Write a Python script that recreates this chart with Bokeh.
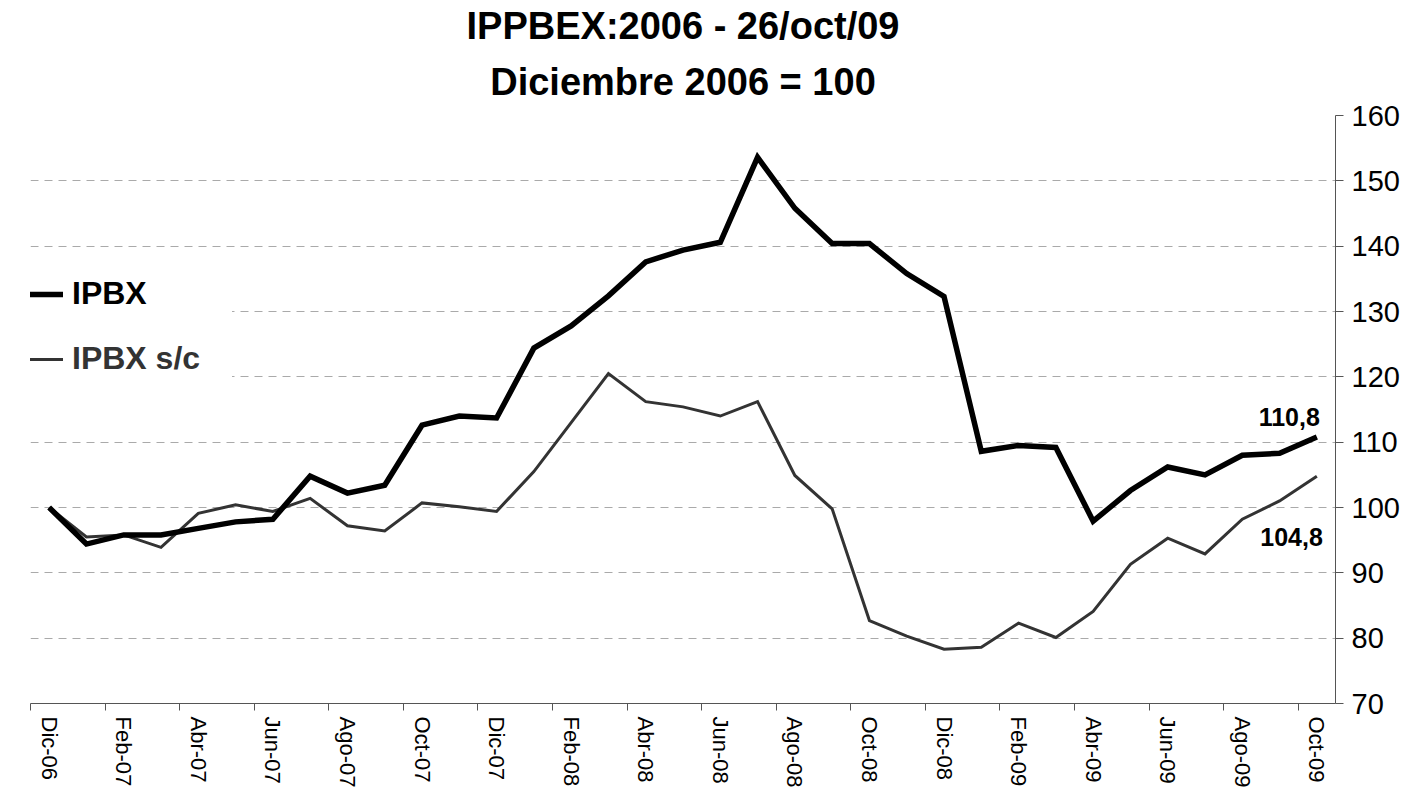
from bokeh.plotting import figure
from bokeh.models import (Range1d, FixedTicker, ColumnDataSource, Legend, LegendItem, Title)
from bokeh.core.properties import value
from bokeh.embed import file_html
from bokeh.resources import INLINE

# ---------------- data ----------------
months = ["Dic-06", "Ene-07", "Feb-07", "Mar-07", "Abr-07", "May-07", "Jun-07",
          "Jul-07", "Ago-07", "Sep-07", "Oct-07", "Nov-07", "Dic-07", "Ene-08",
          "Feb-08", "Mar-08", "Abr-08", "May-08", "Jun-08", "Jul-08", "Ago-08",
          "Sep-08", "Oct-08", "Nov-08", "Dic-08", "Ene-09", "Feb-09", "Mar-09",
          "Abr-09", "May-09", "Jun-09", "Jul-09", "Ago-09", "Sep-09", "Oct-09"]
ipbx = [100.0, 94.4, 95.8, 95.8, 96.8, 97.8, 98.2, 104.8, 102.2, 103.4, 112.6,
        114.0, 113.7, 124.4, 127.8, 132.4, 137.6, 139.4, 140.6, 153.6, 145.8,
        140.4, 140.4, 135.8, 132.3, 108.6, 109.5, 109.2, 97.9, 102.6, 106.2,
        105.0, 108.0, 108.3, 110.8]
ipbx_sc = [100.0, 95.5, 95.8, 93.9, 99.1, 100.4, 99.4, 101.4, 97.2, 96.4, 100.7,
           100.1, 99.4, 105.5, 113.0, 120.5, 116.2, 115.4, 114.0, 116.2, 104.9,
           99.8, 82.7, 80.3, 78.3, 78.6, 82.3, 80.1, 84.1, 91.3, 95.3,
           92.9, 98.2, 101.0, 104.8]
series_names = ["IPBX", "IPBX s/c"]
y_ticks = [70, 80, 90, 100, 110, 120, 130, 140, 150, 160]
title_lines = ["IPPBEX:2006 - 26/oct/09", "Diciembre 2006 = 100"]

FONT = "Liberation Sans"
idx = list(range(len(months)))

p = figure(frame_width=1305, frame_height=588, output_backend="svg",
           toolbar_location=None, x_range=Range1d(-0.5, len(months) - 0.5),
           y_range=Range1d(y_ticks[0], y_ticks[-1]), y_axis_location="right",
           min_border_left=30, min_border_top=115, min_border_right=0,
           min_border_bottom=0, background_fill_color="white",
           border_fill_color="white", title=None)
p.outline_line_color = None

# title (two centred lines; first added sits nearest the frame)
for line, so in ((title_lines[1], 25), (title_lines[0], 0)):
    p.add_layout(Title(text=line, align="center", text_font=FONT,
                       text_font_size="38px", text_font_style="bold",
                       text_color="black", standoff=so), "above")

# x axis
xa = p.xaxis[0]
xa.ticker = FixedTicker(ticks=idx[::2], minor_ticks=[i - 0.5 for i in idx[::2]])
xa.major_label_overrides = {i: months[i] for i in idx[::2]}
xa.major_label_orientation = "vertical"
xa.major_label_text_font = FONT
xa.major_label_text_font_size = "22px"
xa.major_label_text_color = "black"
xa.major_label_standoff = 6
xa.major_tick_in = 0
xa.major_tick_out = 0
xa.minor_tick_in = 0
xa.minor_tick_out = 7
xa.minor_tick_line_color = "#555555"
xa.axis_line_color = "#555555"

# y axis
ya = p.yaxis[0]
ya.ticker = FixedTicker(ticks=y_ticks)
ya.major_label_text_font = FONT
ya.major_label_text_font_size = "29px"
ya.major_label_text_color = "black"
ya.major_label_standoff = 8
ya.major_tick_in = 0
ya.major_tick_out = 8
ya.minor_tick_line_color = None
ya.major_tick_line_color = "#555555"
ya.axis_line_color = "#555555"

p.xgrid.visible = False
p.ygrid.ticker = FixedTicker(ticks=y_ticks)
p.ygrid.grid_line_color = "#aaaaaa"
p.ygrid.grid_line_dash = "8 6"
p.ygrid.grid_line_width = 1

src = ColumnDataSource(dict(x=idx, a=ipbx, b=ipbx_sc))
r_sc = p.line("x", "b", source=src, line_color="#333333", line_width=3,
              line_join="miter")
r_a = p.line("x", "a", source=src, line_color="black", line_width=5.5,
             line_join="miter")

# end labels
def fmt(v):
    return ("%.1f" % v).replace(".", ",")

last = len(months) - 1
la = ColumnDataSource(dict(x=[last], y=[ipbx[-1]], t=[fmt(ipbx[-1])]))
lb = ColumnDataSource(dict(x=[last], y=[ipbx_sc[-1]], t=[fmt(ipbx_sc[-1])]))
p.text("x", "y", text="t", source=la, text_font=value(FONT), text_font_size="25px",
       text_font_style="bold", text_color="black", text_align="right",
       text_baseline="alphabetic", x_offset=3, y_offset=-20)
p.text("x", "y", text="t", source=lb, text_font=value(FONT), text_font_size="25px",
       text_font_style="bold", text_color="black", text_align="right",
       text_baseline="alphabetic", x_offset=6, y_offset=61)

# legends
def make_legend(label, r, color, y):
    lg = Legend(items=[LegendItem(label=label, renderers=[r])], location=(-17, y),
                label_text_font=FONT, label_text_font_size="32px",
                label_text_font_style="bold", label_text_color=color,
                glyph_width=50, glyph_height=30, label_standoff=9,
                label_width=160, padding=10, margin=0,
                background_fill_color="white", background_fill_alpha=1.0,
                border_line_color=None)
    p.add_layout(lg, "center")

make_legend(series_names[0], r_a, "black", 391)
make_legend(series_names[1], r_sc, "#333333", 326)

open("out.html", "w").write(file_html(p, INLINE))
